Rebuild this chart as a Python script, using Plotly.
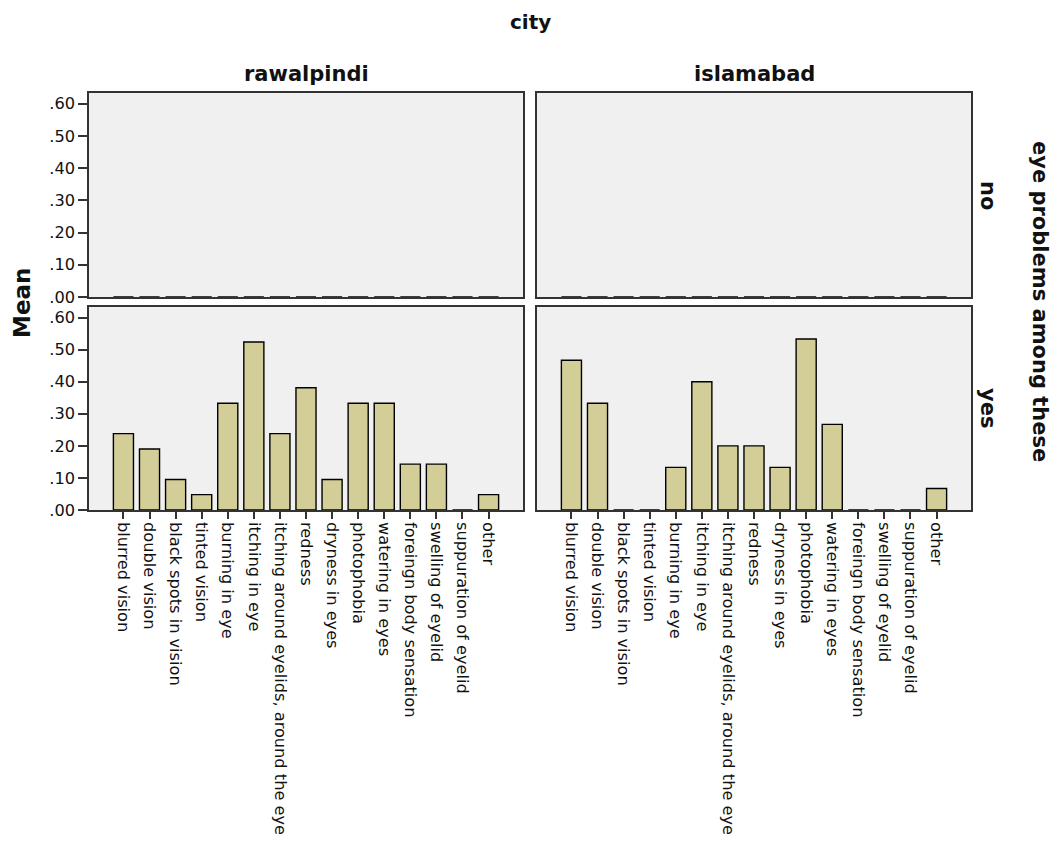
import plotly.graph_objects as go

categories = ["blurred vision", "double vision", "black spots in vision", "tinted vision",
              "burning in eye", "itching in eye", "itching around eyelids, around the eye",
              "redness", "dryness in eyes", "photophobia", "watering in eyes",
              "foreingn body sensation", "swelling of eyelid", "suppuration of eyelid", "other"]

rawalpindi_no = [0.0] * 15
islamabad_no = [0.0] * 15
rawalpindi_yes = [0.238, 0.190, 0.095, 0.048, 0.333, 0.524, 0.238, 0.381, 0.095,
                  0.333, 0.333, 0.143, 0.143, 0.0, 0.048]
islamabad_yes = [0.467, 0.333, 0.0, 0.0, 0.133, 0.400, 0.200, 0.200, 0.133,
                 0.533, 0.267, 0.0, 0.0, 0.0, 0.067]

ytick_vals = [0, 0.1, 0.2, 0.3, 0.4, 0.5, 0.6]
ytick_text = [".00", ".10", ".20", ".30", ".40", ".50", ".60"]

W, H = 1062, 841
BAR = "#D3CE97"
BG = "#F0F0F0"
FRAME = "#333333"
TXT = "#111111"
FONT = "DejaVu Sans"

def px_x(a, b):
    return [a / W, b / W]

def px_y(top, bottom):
    return [1 - bottom / H, 1 - top / H]

fig = go.Figure()

panels = [
    ("x", "y", rawalpindi_yes),
    ("x2", "y2", islamabad_yes),
    ("x3", "y3", rawalpindi_no),
    ("x4", "y4", islamabad_no),
]
for xa, ya, vals in panels:
    fig.add_trace(go.Bar(x=categories, y=vals, xaxis=xa, yaxis=ya,
                         marker=dict(color=BAR, line=dict(color="#000000", width=1.4)),
                         showlegend=False, hoverinfo="x+y"))

xrange = [-1.32, 15.32]
yrange = [0, 0.633]

left_dom = px_x(89, 523)
right_dom = px_x(537, 971)
top_dom = px_y(93, 297)
bot_dom = px_y(307, 510)

common_x = dict(type="category", categoryorder="array", categoryarray=categories,
                range=xrange, showline=True, mirror=True, linecolor=FRAME, linewidth=1.5,
                showgrid=False, zeroline=False, automargin=False, fixedrange=True)
common_y = dict(range=yrange, showline=True, mirror=True, linecolor=FRAME, linewidth=1.5,
                showgrid=False, zeroline=False, automargin=False, fixedrange=True)

bottom_x_extra = dict(ticks="outside", ticklen=7, tickcolor=FRAME, tickwidth=1.5,
                      tickangle=90, showticklabels=True,
                      tickfont=dict(family=FONT, size=16.2, color=TXT))

ytickfont = dict(family=FONT, size=16.2, color=TXT)

fig.update_layout(
    xaxis=dict(domain=left_dom, anchor="y", **common_x, **bottom_x_extra),
    xaxis2=dict(domain=right_dom, anchor="y2", **common_x, **bottom_x_extra),
    xaxis3=dict(domain=left_dom, anchor="y3", **common_x, ticks="", showticklabels=False),
    xaxis4=dict(domain=right_dom, anchor="y4", **common_x, ticks="", showticklabels=False),
    yaxis=dict(domain=bot_dom, anchor="x", **common_y, tickvals=ytick_vals, ticktext=ytick_text,
               ticks="outside", ticklen=9, tickcolor=FRAME, tickwidth=1.5, tickfont=ytickfont),
    yaxis2=dict(domain=bot_dom, anchor="x2", **common_y, ticks="", showticklabels=False),
    yaxis3=dict(domain=top_dom, anchor="x3", **common_y, tickvals=ytick_vals, ticktext=ytick_text,
                ticks="outside", ticklen=9, tickcolor=FRAME, tickwidth=1.5, tickfont=ytickfont),
    yaxis4=dict(domain=top_dom, anchor="x4", **common_y, ticks="", showticklabels=False),
    width=W, height=H,
    margin=dict(l=0, r=0, t=0, b=0),
    paper_bgcolor="white",
    plot_bgcolor=BG,
    bargap=0.23,
    template="none",
    font=dict(family=FONT, color=TXT),
)

def ann(text, x, y, size, angle=0, bold=True):
    fig.add_annotation(text=f"<b>{text}</b>" if bold else text,
                       x=x / W, y=1 - y / H, xref="paper", yref="paper",
                       showarrow=False, textangle=angle,
                       xanchor="center", yanchor="middle",
                       font=dict(family=FONT, size=size, color=TXT))

ann("city", 530, 22, 20)
ann("rawalpindi", 306, 74, 21)
ann("islamabad", 754, 74, 21)
ann("Mean", 22, 303, 23, angle=-90)
ann("no", 988, 195, 21, angle=90)
ann("yes", 988, 408, 21, angle=90)
ann("eye problems among these", 1040, 301, 21, angle=90)

fig.write_html("out.html",
               config={"displayModeBar": False},
               post_script="document.body.style.margin='0';document.body.style.padding='0';")
